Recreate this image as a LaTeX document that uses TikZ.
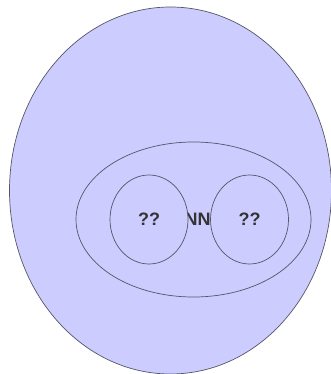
\documentclass[tikz,border=0pt]{standalone}
\usepackage{fontspec}
\setmainfont{Liberation Sans}
\usepackage{xcolor}
\usepackage{tikz}
\usetikzlibrary{shapes.geometric}

\definecolor{lavender}{HTML}{CCCCFF}
\definecolor{rim}{HTML}{555566}
\definecolor{ink}{HTML}{333333}

\begin{document}
\begin{tikzpicture}[x=1pt, y=-1pt,
    blob/.style={ellipse, draw=rim, line width=0.7pt, fill=lavender, inner sep=0pt},
    lbl/.style={text=ink, font=\fontsize{18}{20}\selectfont\bfseries}
]
\useasboundingbox (0,0) rectangle (331,374);
\node[blob, minimum width=322pt, minimum height=367pt] (outer) at (170.5,190.5) {};
\node[blob, minimum width=235pt, minimum height=155pt] (net) at (193.5,219.5) {};
\node[lbl] (netlabel) at (197.5,219.5) {NN};
\node[blob, minimum width=78pt, minimum height=89pt, lbl] (left) at (149,219.5) {??};
\node[blob, minimum width=78pt, minimum height=89pt, lbl] (right) at (249.5,219.5) {??};
\end{tikzpicture}
\end{document}
